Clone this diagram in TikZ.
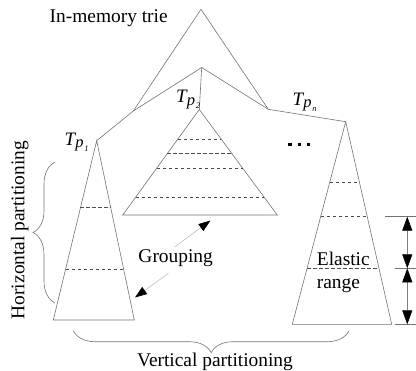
\documentclass[tikz,border=0pt]{standalone}
\usepackage{fontspec}
\setmainfont{Liberation Serif}
\usetikzlibrary{calc,arrows.meta,decorations.pathreplacing}

% partition name: italic T with a lowered p and a tiny index
\newcommand{\tpname}[1]{{\fontsize{19bp}{19bp}\selectfont\itshape T\kern0.2bp\raisebox{-2.5bp}{\fontsize{16.5bp}{16.5bp}\selectfont p}\kern0.6bp\raisebox{-6bp}{\fontsize{8.5bp}{8.5bp}\selectfont #1}}}

\begin{document}
\begin{tikzpicture}[x=1bp,y=-1bp,
  edge/.style={draw=black!55,line width=0.6bp},
  level/.style={draw=black!70,line width=0.6bp,dash pattern=on 3.5bp off 2.5bp},
  txt/.style={inner sep=0pt,font=\fontsize{19.4bp}{22bp}\selectfont},
  tpl/.style={inner sep=0pt,anchor=base west},
  rangearrow/.style={draw=black!50,line width=0.6bp,
    {Triangle[length=14bp,width=10bp,color=black]}-{Triangle[length=14bp,width=10bp,color=black]}},
  grouparrow/.style={draw=black!25,line width=0.6bp,-{Triangle[length=12bp,width=8.5bp,color=black]}},
  dot/.style={fill=black,inner sep=0pt,minimum size=3.6bp},
  curly/.style={draw=black!55,line width=0.6bp,decorate,decoration={brace,amplitude=22bp}}
]
\useasboundingbox (0,0) rectangle (416,371);

% in-memory trie
\coordinate (top) at (201,9.3);
\coordinate (tl) at (133.3,111);
\coordinate (tr) at (268.3,109.3);
\coordinate (mid) at (201.7,67.5);

% partition tries: apex, base left, base right
\coordinate (p1) at (96.7,140.7);
\coordinate (p1l) at (53.3,320);
\coordinate (p1r) at (134.3,320);
\coordinate (p2) at (199.3,109.5);
\coordinate (p2l) at (122.7,215);
\coordinate (p2r) at (277.3,215);
\coordinate (pn) at (345.7,121.7);
\coordinate (pnl) at (292.3,324.3);
\coordinate (pnr) at (391.7,324.3);

\draw[edge] (tl) -- (top) -- (tr);
\draw[edge] (p1) -- (tl) -- (mid) -- (tr) -- (pn);
\draw[edge] (mid) -- (p2);

\draw[edge] (p1) -- (p1l) -- (p1r) -- cycle;
\draw[edge] (p2) -- (p2l) -- (p2r) -- cycle;
\draw[edge] (pn) -- (pnl) -- (pnr) -- cycle;

% horizontal partition levels
\foreach \t in {0.3737,0.7172}
  \draw[level] ($(p1)!\t!(p1l)$) -- ($(p1)!\t!(p1r)$);
\foreach \t in {0.2825,0.4152,0.5573,0.8322}
  \draw[level] ($(p2)!\t!(p2l)$) -- ($(p2)!\t!(p2r)$);
\foreach \t in {0.2991,0.4689,0.7236}
  \draw[level] ($(pn)!\t!(pnl)$) -- ($(pn)!\t!(pnr)$);

% labels
\node[txt,anchor=base west] (trie) at (49.5,22.6) {In-memory trie};
\node[tpl] (tp1) at (64.5,145) {\tpname{1}};
\node[tpl] (tp2) at (176,102.5) {\tpname{2}};
\node[tpl] (tpn) at (292.5,105) {\tpname{\itshape n}};

\node[dot] (d1) at (290,144.3) {};
\node[dot] (d2) at (299.3,144.3) {};
\node[dot] (d3) at (308.6,144.3) {};

% grouping arrow
\node[txt,anchor=base west] (grp) at (138.3,262.3) {Grouping};
\coordinate (g1) at (175,246.7);
\coordinate (g1t) at (210.5,220.5);
\coordinate (g2) at (168.5,273.3);
\coordinate (g2t) at (135,297.5);
\draw[grouparrow] (g1) -- (g1t);
\draw[grouparrow] (g2) -- (g2t);

% elastic range
\node[txt,anchor=base west] (el) at (316.7,265.5) {Elastic};
\node[txt,anchor=base west] (rg) at (316.7,288) {range};
\coordinate (e1a) at (385,216.7);
\coordinate (e1b) at (416,216.7);
\coordinate (e2a) at (395,268.3);
\coordinate (e2b) at (416,268.3);
\coordinate (e3a) at (395,324.3);
\coordinate (e3b) at (416,324.3);
\draw[edge] (e1a) -- (e1b);
\draw[edge] (e2a) -- (e2b);
\draw[edge] (e3a) -- (e3b);
\coordinate (r1) at (407.3,216.7);
\coordinate (r2) at (407.3,268.3);
\coordinate (r3) at (407.3,324.3);
\draw[rangearrow] (r1) -- (r2);
\draw[rangearrow] (r2) -- (r3);

% braces
\coordinate (hb1) at (55,303);
\coordinate (hb2) at (55,162);
\draw[curly] (hb1) -- (hb2);
\node[txt,rotate=90,anchor=base] (hp) at (24.3,230) {Horizontal partitioning};

\coordinate (vb1) at (349,330.7);
\coordinate (vb2) at (73.3,330.7);
\draw[curly] (vb1) -- (vb2);
\node[txt,anchor=base] (vp) at (215,366.5) {Vertical partitioning};
\end{tikzpicture}
\end{document}
